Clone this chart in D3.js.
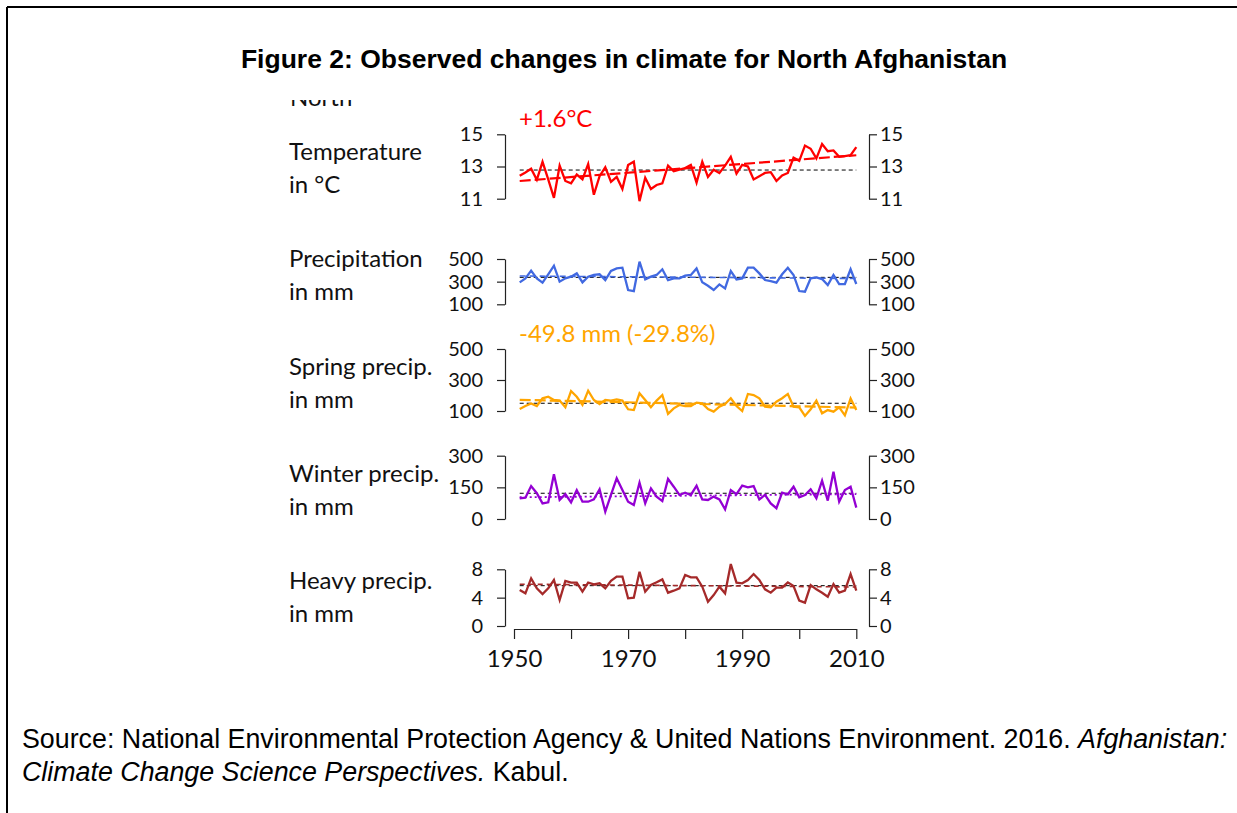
<!DOCTYPE html>
<html>
<head>
<meta charset="utf-8">
<script src="https://cdn.jsdelivr.net/npm/d3@7"></script>
<style>
  html, body { margin: 0; padding: 0; background: #fff; }
  svg { display: block; }
  .lab { font-family: Lato, "Open Sans", sans-serif; font-size: 24px; fill: #111; }
  .yax .tick text { font-family: Lato, "Open Sans", sans-serif; font-size: 20px; fill: #111; }
  .xax .tick text { font-family: Lato, "Open Sans", sans-serif; font-size: 24px; fill: #111; }
</style>
</head>
<body>
<svg id="chart" width="1237" height="813"></svg>
<script>
// ---------------- data ----------------
const years = [1951,1952,1953,1954,1955,1956,1957,1958,1959,1960,
  1961,1962,1963,1964,1965,1966,1967,1968,1969,1970,
  1971,1972,1973,1974,1975,1976,1977,1978,1979,1980,
  1981,1982,1983,1984,1985,1986,1987,1988,1989,1990,
  1991,1992,1993,1994,1995,1996,1997,1998,1999,2000,
  2001,2002,2003,2004,2005,2006,2007,2008,2009,2010];

const temperature = [12.42,12.63,12.86,12.17,13.29,12.2,11.05,13.05,12.1,11.95,
  12.5,12.2,13.15,11.25,12.4,12.95,12.05,12.35,11.6,13.1,
  13.3,10.85,12.3,11.6,11.85,11.95,13.05,12.7,12.8,12.9,
  13.1,12.0,13.3,12.35,12.8,12.6,13.05,13.6,12.55,13.1,
  13.0,12.2,12.4,12.6,12.65,12.1,12.45,12.6,13.55,13.35,
  14.3,14.1,13.5,14.4,13.95,14.0,13.6,13.65,13.7,14.2];

const precipitation = [294,329,397,329,291,365,441,300,329,344,
  373,294,344,359,365,314,394,417,423,226,
  217,476,320,344,359,409,314,329,329,353,
  359,417,294,264,226,276,241,394,320,329,
  423,423,373,314,305,291,365,423,359,217,
  211,329,338,323,270,359,279,279,409,279];

const springPrecip = [113,132,149,132,182,192,171,167,124,229,
  192,139,231,171,145,171,167,175,167,111,
  106,214,171,124,167,203,81,117,139,132,
  132,154,149,113,96,128,145,182,132,100,
  210,203,182,128,124,160,182,210,128,124,
  68,111,167,85,106,96,124,72,180,106];

const winterPrecip = [98,101,156,122,74,79,212,90,118,79,
  137,82,82,93,141,35,114,193,137,82,
  66,172,74,145,106,85,190,153,114,125,
  114,158,93,90,106,93,46,137,118,158,
  150,156,93,114,74,51,125,117,153,103,
  114,141,98,182,87,224,82,137,153,54];

const heavyPrecip = [5.08,4.61,6.72,5.31,4.51,5.31,6.49,3.67,6.35,6.11,
  6.11,4.84,6.11,5.88,6.02,5.31,6.39,6.96,6.96,3.9,
  4.0,7.66,4.84,5.78,6.16,6.58,4.7,4.98,5.31,7.19,
  6.86,6.86,5.55,3.43,4.37,5.55,4.61,8.74,6.11,6.02,
  6.49,7.33,6.49,5.17,4.7,5.41,5.41,6.16,5.64,3.57,
  3.29,5.78,5.17,4.7,4.14,5.92,4.7,4.98,7.33,4.98];

// reference means (black dashed) and trend end values (1951, 2010)
const means  = [12.78, 338, 150, 122, 5.69];
const trends = [[12.1, 13.7], [350, 328], [172, 122], [103, 118], [5.9, 5.5]];

const panelNames  = [["Temperature", "in °C"], ["Precipitation", "in mm"], ["Spring precip.", "in mm"],
                     ["Winter precip.", "in mm"], ["Heavy precip.", "in mm"]];
const panelTicks  = [[11, 13, 15], [100, 300, 500], [100, 300, 500], [0, 150, 300], [0, 4, 8]];
const panelColors = ["#ff0000", "#4169e1", "#ffa500", "#9400d3", "#a52a2a"];
const panelSeries = [temperature, precipitation, springPrecip, winterPrecip, heavyPrecip];
const annotations = ["+1.6°C", null, "-49.8 mm (-29.8%)", null, null];
const xTicks = [1950, 1960, 1970, 1980, 1990, 2000, 2010];
const xTickLabels = ["1950", "", "1970", "", "1990", "", "2010"];

// ---------------- layout ----------------
const svg = d3.select("#chart");
// pixel ranges for each panel [bottom, top]
const panelRanges = [[198.7, 134.3], [304.3, 259], [411, 349], [519, 455.7], [626, 569.3]];
const trendDash = ["11,4", "6,4", "11,4", "2,3", "5,4"];
const trendWidth = [2.2, 1.6, 2.2, 1.8, 1.6];
const leftAxisX = 505, rightAxisX = 869;
const labelTop = 160, labelStep = 107.25, labelLine = 33;

const x = d3.scaleLinear().domain([1950, 2010]).range([514, 856.3]);

// frame lines
svg.append("line").attr("x1", 7).attr("y1", 7).attr("x2", 1237).attr("y2", 7)
  .attr("stroke", "#000").attr("stroke-width", 2);
svg.append("line").attr("x1", 7).attr("y1", 7).attr("x2", 7).attr("y2", 813)
  .attr("stroke", "#000").attr("stroke-width", 2);

// title
svg.append("text").attr("x", 624).attr("y", 68).attr("text-anchor", "middle")
  .style("font-family", "'Liberation Sans', Arial, sans-serif").style("font-weight", "bold")
  .style("font-size", "26.5px").text("Figure 2: Observed changes in climate for North Afghanistan");

// clipped "North" heading
svg.append("clipPath").attr("id", "northclip").append("rect")
  .attr("x", 280).attr("y", 100).attr("width", 120).attr("height", 20);
svg.append("text").attr("class", "lab").attr("x", 290).attr("y", 106)
  .attr("clip-path", "url(#northclip)").text("North");

panelSeries.forEach((series, p) => {
  const y = d3.scaleLinear().domain([panelTicks[p][0], panelTicks[p][2]]).range(panelRanges[p]);
  const g = svg.append("g");

  // axes
  const la = g.append("g").attr("class", "yax").attr("transform", `translate(${leftAxisX},0)`)
    .call(d3.axisLeft(y).tickValues(panelTicks[p]).tickFormat(d3.format("d"))
      .tickSize(8).tickPadding(14).tickSizeOuter(0));
  const ra = g.append("g").attr("class", "yax").attr("transform", `translate(${rightAxisX},0)`)
    .call(d3.axisRight(y).tickValues(panelTicks[p]).tickFormat(d3.format("d"))
      .tickSize(8).tickPadding(3).tickSizeOuter(0));
  [la, ra].forEach(a => {
    a.select(".domain").attr("stroke", "#222").attr("stroke-width", 1.2);
    a.selectAll(".tick line").attr("stroke", "#222").attr("stroke-width", 1.2);
  });

  // mean line
  g.append("line").attr("x1", x(years[0])).attr("x2", x(years[years.length - 1]))
    .attr("y1", y(means[p])).attr("y2", y(means[p]))
    .attr("stroke", "#000").attr("stroke-width", 1).attr("stroke-dasharray", "4,3");

  // data line
  g.append("path").datum(series)
    .attr("fill", "none").attr("stroke", panelColors[p]).attr("stroke-width", 2.3)
    .attr("stroke-linejoin", "miter")
    .attr("d", d3.line().x((d, i) => x(years[i])).y(d => y(d)));

  // trend line
  g.append("path").datum([[years[0], trends[p][0]], [years[years.length - 1], trends[p][1]]])
    .attr("fill", "none").attr("stroke", panelColors[p]).attr("stroke-width", trendWidth[p])
    .attr("stroke-dasharray", trendDash[p])
    .attr("d", d3.line().x(d => x(d[0])).y(d => y(d[1])));

  // panel label
  const ly = labelTop + p * labelStep;
  g.append("text").attr("class", "lab").attr("x", 289).attr("y", ly).text(panelNames[p][0]);
  g.append("text").attr("class", "lab").attr("x", 289).attr("y", ly + labelLine).text(panelNames[p][1]);

  if (annotations[p]) {
    g.append("text").attr("x", 519).attr("y", panelRanges[p][1] - 7)
      .style("font-family", "Lato, 'Open Sans', sans-serif").style("font-size", "24px")
      .attr("fill", panelColors[p]).text(annotations[p]);
  }
});

// x axis
const xa = svg.append("g").attr("class", "xax").attr("transform", "translate(0,629)")
  .call(d3.axisBottom(x).tickValues(xTicks).tickFormat((d, i) => xTickLabels[i])
    .tickSize(10).tickPadding(11).tickSizeOuter(0));
xa.select(".domain").attr("stroke", "#222").attr("stroke-width", 1.2);
xa.selectAll(".tick line").attr("stroke", "#222").attr("stroke-width", 1.2);

// source text
const src = svg.append("text").attr("x", 22).attr("y", 748)
  .style("font-family", "'Liberation Sans', Arial, sans-serif").style("font-size", "26.8px").attr("fill", "#000");
src.append("tspan").text("Source: National Environmental Protection Agency & United Nations Environment. 2016. ");
src.append("tspan").style("font-style", "italic").text("Afghanistan:");
const src2 = svg.append("text").attr("x", 22).attr("y", 781)
  .style("font-family", "'Liberation Sans', Arial, sans-serif").style("font-size", "26.8px").attr("fill", "#000");
src2.append("tspan").style("font-style", "italic").text("Climate Change Science Perspectives.");
src2.append("tspan").text(" Kabul.");
</script>
</body>
</html>
